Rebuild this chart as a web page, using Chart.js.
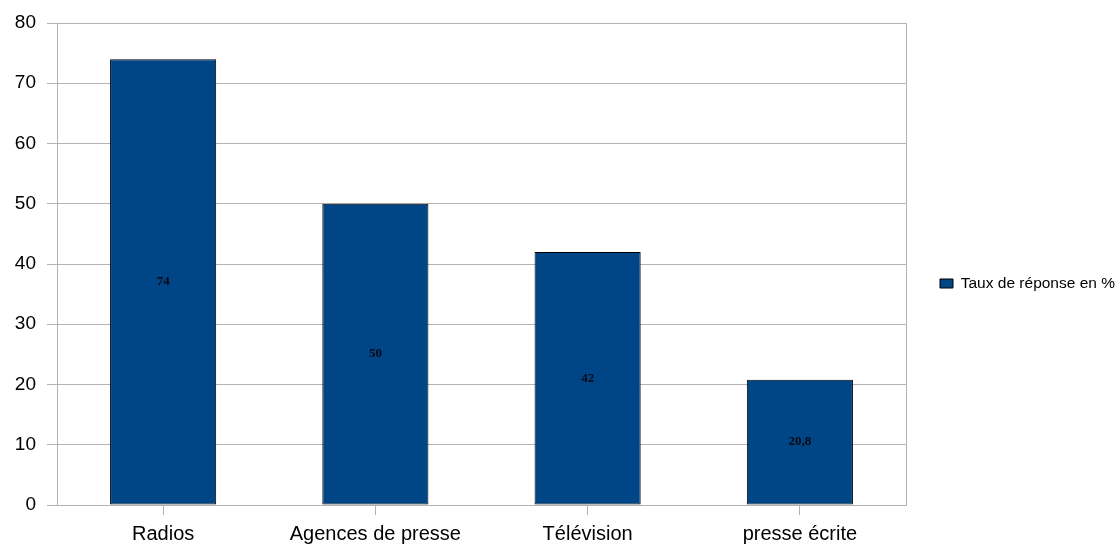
<!DOCTYPE html>
<html>
<head>
<meta charset="utf-8">
<script src="https://cdn.jsdelivr.net/npm/chart.js@4"></script>
<style>
  html, body { margin: 0; padding: 0; background: #fff; }
  #wrap { width: 1119px; height: 544px; }
</style>
</head>
<body>
<div id="wrap"><canvas id="grafico"></canvas></div>
<script>
// Données
const categories = ['Radios', 'Agences de presse', 'Télévision', 'presse écrite'];
const valeurs = [74, 50, 42, 20.8];
const nomSerie = 'Taux de réponse en %';
const graduations = [0, 10, 20, 30, 40, 50, 60, 70, 80];

const grille = '#b3b3b3';
const bleu = '#004586';

// Étiquettes de valeur au milieu des barres
const etiquettes = {
    id: 'etiquettes',
    afterDatasetsDraw(chart) {
        const ctx = chart.ctx;
        const meta = chart.getDatasetMeta(0);
        ctx.save();
        ctx.font = 'bold 13px "Liberation Serif"';
        ctx.fillStyle = '#0a0a14';
        ctx.textAlign = 'center';
        ctx.textBaseline = 'middle';
        meta.data.forEach((barre, i) => {
            const texte = String(valeurs[i]).replace('.', ',');
            ctx.fillText(texte, barre.x, (barre.y + barre.base) / 2);
        });
        ctx.restore();
    }
};

// Largeur fixe pour la légende à droite
const largeurLegende = {
    id: 'largeurLegende',
    beforeLayout(chart) {
        const lg = chart.legend;
        if (lg && !lg._largeurFixe) {
            const fitOrig = lg.fit;
            lg.fit = function () {
                fitOrig.call(this);
                this.width = 205;
            };
            lg._largeurFixe = true;
        }
    }
};

function gerarGrafico() {
    const ctx = document.getElementById('grafico').getContext('2d');
    new Chart(ctx, {
        type: 'bar',
        data: {
            labels: categories,
            datasets: [{
                label: nomSerie,
                data: valeurs,
                backgroundColor: bleu,
                borderColor: '#000',
                borderWidth: 1,
                borderSkipped: false,
                barPercentage: 0.5,
                categoryPercentage: 1
            }]
        },
        options: {
            responsive: true,
            maintainAspectRatio: false,
            animation: false,
            layout: { padding: { top: 23, left: 0, right: 0, bottom: 0 } },
            scales: {
                x: {
                    afterFit(scale) { scale.height = 39; },
                    grid: {
                        offset: false,
                        drawOnChartArea: false,
                        drawTicks: true,
                        tickLength: 10,
                        color: grille
                    },
                    border: { color: grille },
                    ticks: {
                        color: '#000',
                        padding: 7,
                        font: { family: '"Liberation Sans"', size: 20 }
                    }
                },
                y: {
                    min: 0,
                    max: 80,
                    afterBuildTicks(scale) {
                        scale.ticks = graduations.map(v => ({ value: v }));
                    },
                    afterFit(scale) { scale.width = 57; },
                    grid: { color: grille, tickLength: 10 },
                    border: { color: grille },
                    ticks: {
                        color: '#000',
                        padding: 11,
                        font: { family: '"Liberation Sans"', size: 19 }
                    }
                },
                y2: {
                    position: 'right',
                    grid: { display: false },
                    ticks: { display: false },
                    border: { color: grille }
                }
            },
            plugins: {
                legend: {
                    position: 'right',
                    align: 'center',
                    labels: {
                        boxWidth: 13,
                        boxHeight: 9,
                        padding: 26,
                        color: '#000',
                        font: { family: '"Liberation Sans"', size: 15.5 }
                    }
                },
                tooltip: { enabled: false }
            }
        },
        plugins: [etiquettes, largeurLegende]
    });
}

window.onload = function () {
    gerarGrafico();
};
</script>
</body>
</html>
